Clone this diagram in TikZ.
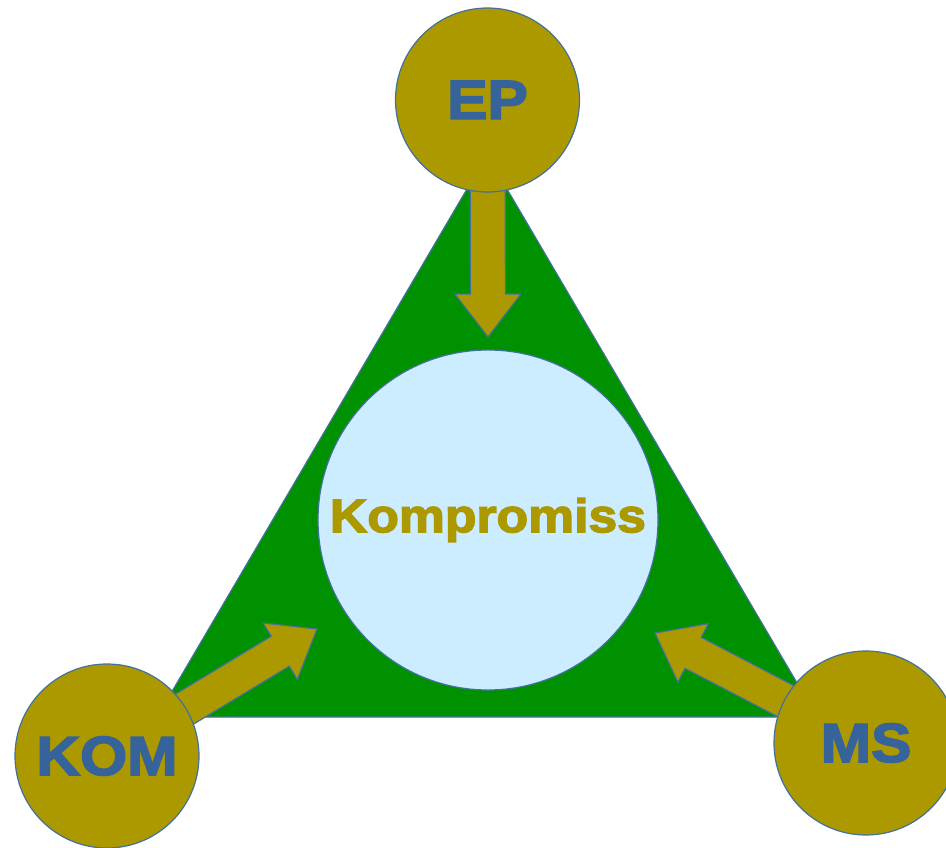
\documentclass[tikz,border=0pt]{standalone}
\usepackage{fontspec}
\setmainfont{Liberation Sans}[FakeStretch=1.1, BoldFeatures={FakeBold=3}]
\usetikzlibrary{calc}

\definecolor{olive}{RGB}{172,153,0}
\definecolor{leaf}{RGB}{0,145,0}
\definecolor{sky}{RGB}{204,236,255}
\definecolor{edge}{RGB}{65,113,156}
\definecolor{ink}{RGB}{54,99,153}

\newcommand{\blockarrow}[2]{%
    \path ($(#2)!43pt!(#1)$) coordinate (hb);
    \draw [barrow] ($(#1)!17.5pt!90:(#2)$) -- ($(hb)!17.5pt!90:(#2)$)
        -- ($(hb)!33pt!90:(#2)$) -- (#2) -- ($(hb)!33pt!-90:(#2)$)
        -- ($(hb)!17.5pt!-90:(#2)$) -- ($(#1)!17.5pt!-90:(#2)$) -- cycle;}

\begin{document}
\begin{tikzpicture}[
                x = 1pt, y = -1pt,
                party/.style={ circle, minimum size = 184pt, inner sep = 0pt, fill = olive, draw = edge, line width = 1.2pt,
                               text = ink, font = \fontsize{55}{60}\selectfont\bfseries },
                core/.style={ circle, minimum size = 340pt, inner sep = 0pt, fill = sky, draw = edge, line width = 1.2pt,
                              text = olive, font = \fontsize{47}{50}\selectfont\bfseries },
                barrow/.style={ fill = olive, draw = edge, line width = 1.2pt, line join = miter },
                tri/.style={ fill = leaf, draw = edge, line width = 1.2pt }
            ]
            \clip (0, 0) rectangle (946, 848);

            \draw [tri] (487, 155) -- (157, 717) -- (817, 717) -- cycle;

            \coordinate (EPc)  at (487.5, 100);
            \coordinate (KOMc) at (107, 756);
            \coordinate (MSc)  at (866, 743);
            \coordinate (tEP)  at (488, 337);
            \coordinate (tKOM) at (317, 629);
            \coordinate (tMS)  at (655, 633);

            \blockarrow{EPc}{tEP}
            \blockarrow{KOMc}{tKOM}
            \blockarrow{MSc}{tMS}

            \node (K)   [core]  at (488, 520) {Kompromiss};
            \node (EP)  [party] at (EPc)  {EP};
            \node (KOM) [party] at (KOMc) {KOM};
            \node (MS)  [party] at (MSc)  {MS};
        \end{tikzpicture}
\end{document}
